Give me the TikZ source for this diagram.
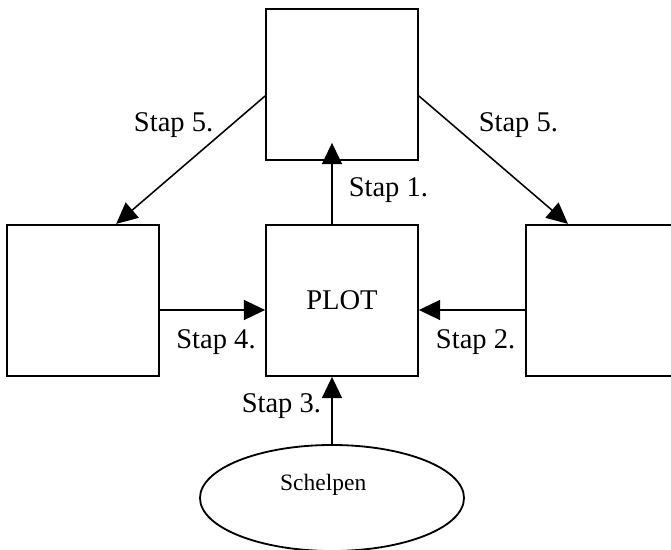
\documentclass[tikz,border=0pt]{standalone}
\usepackage{fontspec}
\setmainfont{Liberation Serif}
\usetikzlibrary{arrows.meta,positioning,shapes.geometric}

\begin{document}
\begin{tikzpicture}[
  x=1cm, y=1cm,
  font=\fontsize{20.3pt}{24pt}\selectfont,
  stagebox/.style={draw, line width=1.3pt, minimum width=3.8cm, minimum height=3.78cm, inner sep=0pt},
  source/.style={draw, ellipse, line width=1.3pt, minimum width=6.6cm, minimum height=2.65cm, inner sep=0pt},
  steplabel/.style={anchor=base, inner sep=0pt},
  arrow/.style={-{Triangle[length=0.53cm, width=0.5cm]}, line width=1.1pt}
]
\useasboundingbox (0,0) rectangle (16.775,-13.75);

\node[stagebox] (top)   at (8.55, -2.11) {};
\node[stagebox] (plot)  at (8.55, -7.51) {PLOT};
\node[stagebox] (left)  at (2.075, -7.51) {};
\node[stagebox] (right) at (15.05, -7.51) {};
\node[source]   (sch)   at (8.3, -12.45) {};
\node[steplabel, font=\fontsize{16.7pt}{20pt}\selectfont] (schtxt) at (8.08, -12.27) {Schelpen};

\node[steplabel] (s1)  at (9.71, -4.92)  {Stap 1.};
\node[steplabel] (s2)  at (11.89, -8.71) {Stap 2.};
\node[steplabel] (s3)  at (7.035, -10.32) {Stap 3.};
\node[steplabel] (s4)  at (5.40, -8.71)  {Stap 4.};
\node[steplabel] (s5l) at (4.34, -3.29)  {Stap 5.};
\node[steplabel] (s5r) at (12.96, -3.29) {Stap 5.};

\draw[arrow] ([xshift=-0.25cm]plot.north) -- ([xshift=-0.25cm, yshift=0.45cm]top.south);
\draw[arrow] ([yshift=-0.24cm]right.west) -- ([yshift=-0.24cm]plot.east);
\draw[arrow] (sch.north) -- ([xshift=-0.25cm]plot.south);
\draw[arrow] ([yshift=-0.24cm]left.east) -- ([yshift=-0.24cm]plot.west);
\draw[arrow] ([yshift=-0.29cm]top.west) -- ([xshift=0.83cm]left.north);
\draw[arrow] ([yshift=-0.29cm]top.east) -- ([xshift=-0.85cm]right.north);
\end{tikzpicture}
\end{document}
